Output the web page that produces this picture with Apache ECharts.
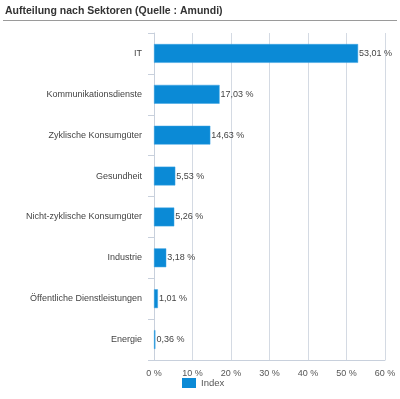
<!DOCTYPE html>
<html>
<head>
<meta charset="utf-8">
<script src="https://cdn.jsdelivr.net/npm/echarts@6/dist/echarts.min.js"></script>
<style>
  html, body { margin: 0; padding: 0; background: #fff; }
  #chart { width: 400px; height: 399px; }
</style>
</head>
<body>
<div id="chart"></div>
<script>
	/* data */
	var categories = ['IT', 'Kommunikationsdienste', 'Zyklische Konsumgüter', 'Gesundheit',
		'Nicht-zyklische Konsumgüter', 'Industrie', 'Öffentliche Dienstleistungen', 'Energie'];
	var values = [53.01, 17.03, 14.63, 5.53, 5.26, 3.18, 1.01, 0.36];
	var seriesName = 'Index';
	var titleText = 'Aufteilung nach Sektoren (Quelle : Amundi)';

	var font = '"Liberation Sans", Arial, sans-serif';
	var chart = echarts.init(document.getElementById('chart'));
	var option = {
		animation: false,
		textStyle: { fontFamily: font },
		title: {
			text: titleText,
			left: 0,
			top: 1,
			textStyle: { fontSize: 10.5, fontWeight: 'bold', color: '#333', fontFamily: font }
		},
		graphic: [{
			type: 'line',
			shape: { x1: 3, y1: 20.5, x2: 397, y2: 20.5 },
			style: { stroke: '#9a9a9a', lineWidth: 1 }
		}],
		legend: {
			data: [seriesName],
			bottom: 6,
			left: 177,
			itemWidth: 14,
			itemHeight: 10,
			itemGap: 4,
			icon: 'rect',
			itemStyle: { borderWidth: 0 },
			textStyle: { fontSize: 9.5, color: '#555' }
		},
		grid: {
			left: 154,
			right: 15,
			top: 33,
			bottom: 39
		},
		xAxis: {
			type: 'value',
			min: 0,
			max: 60,
			interval: 10,
			axisLine: { show: true, lineStyle: { color: '#c8d0dc' } },
			axisTick: { show: false },
			splitLine: { lineStyle: { color: '#d4dae3' } },
			axisLabel: {
				formatter: '{value} %',
				fontSize: 9,
				color: '#555',
				margin: 9
			}
		},
		yAxis: {
			type: 'category',
			inverse: true,
			data: categories,
			axisLine: { show: true, lineStyle: { color: '#c8d0dc' } },
			axisTick: { show: true, length: 6, lineStyle: { color: '#c8d0dc' } },
			axisLabel: { fontSize: 9, color: '#444', margin: 12 }
		},
		series: [{
			name: seriesName,
			type: 'bar',
			data: values,
			barWidth: '46%',
			itemStyle: { color: '#0b8ad6', borderColor: '#3aa3e3', borderWidth: 0.5 },
			label: {
				show: true,
				position: 'right',
				distance: 1,
				fontSize: 9,
				color: '#444',
				formatter: function(p) { return p.value.toFixed(2).replace('.', ',') + ' %'; }
			}
		}]
	};
	chart.setOption(option);
</script>
</body>
</html>
